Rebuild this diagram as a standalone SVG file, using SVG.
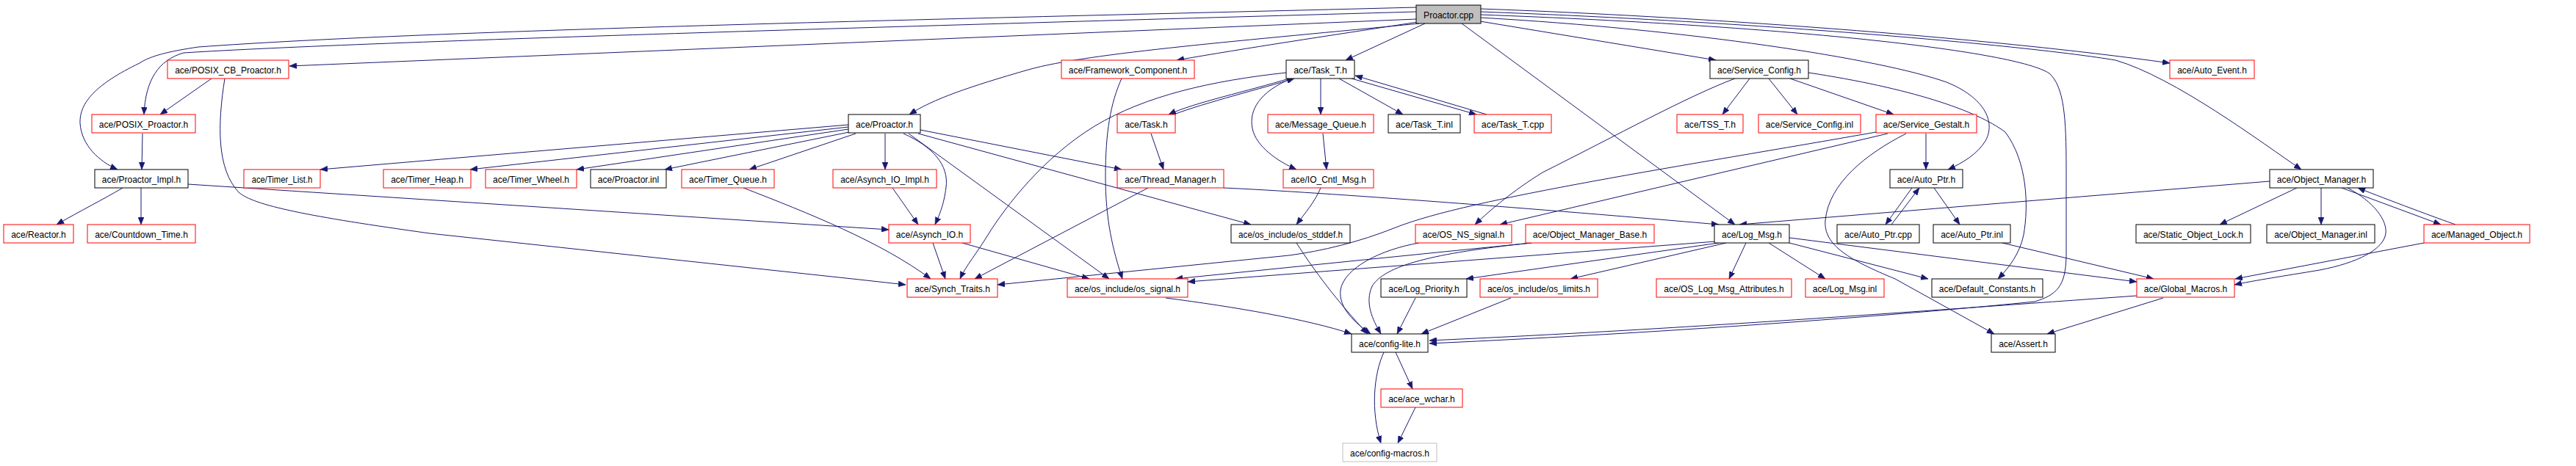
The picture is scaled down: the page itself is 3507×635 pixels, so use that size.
<svg xmlns="http://www.w3.org/2000/svg" width="3507" height="635" viewBox="0 0 3507 635">
<style>
.n rect{fill:#fff;stroke-width:1}
.r rect{stroke:#ff0000}
.b rect{stroke:#000}
.g rect{stroke:#bfbfbf}
.root rect{fill:#bfbfbf;stroke:#000}
text{font-family:"Liberation Sans",Arial,sans-serif;font-size:13.5px;text-anchor:middle;fill:#000}
.e path{fill:none;stroke:#191970;stroke-width:1;marker-end:url(#ah)}
</style>
<defs>
<marker id="ah" markerUnits="userSpaceOnUse" markerWidth="10" markerHeight="8" viewBox="0 0 10 8" refX="10" refY="4" orient="auto">
<path d="M0,0 L10,4 L0,8 z" fill="#191970" stroke="#191970" stroke-width="0.5"/>
</marker>
</defs>
<rect width="3507" height="635" fill="#fff"/>
<g id="edges" class="e">
<path d="M1928,26 L394,90"/>
<path d="M1928,16 C1300,34 500,56 250,72 C215,82 198,110 196,156"/>
<path d="M1928,10 C1300,26 600,40 270,64 C230,70 205,76 190,86 C130,115 108,140 109,168 C111,198 135,220 160,231"/>
<path d="M1930,30 C1800,50 1700,65 1602,82"/>
<path d="M1932,32 C1700,55 1480,72 1400,95 C1320,118 1270,135 1238,156"/>
<path d="M1940,32 L1832,82"/>
<path d="M2015,29 L2336,82"/>
<path d="M1990,32 L2362,306"/>
<path d="M2015,12 C2300,22 2700,50 2954,86"/>
<path d="M2015,16 C2400,30 2760,62 2880,82 C2960,105 3080,195 3133,231"/>
<path d="M2015,20 C2450,36 2745,70 2790,100 C2810,118 2813,160 2813,230 L2813,350 C2812,390 2800,402 2770,411 C2600,428 2300,452 1946,468"/>
<path d="M2015,24 C2300,40 2560,80 2650,112 C2700,132 2718,165 2703,192 C2692,210 2672,222 2652,231"/>
<path d="M288,107 L218,156"/>
<path d="M306,107 C296,170 295,230 325,262 C345,280 420,295 585,318 L1170,381 L1233,388"/>
<path d="M194,182 L193,231"/>
<path d="M167,256 C140,272 110,287 77,306"/>
<path d="M192,256 L192,306"/>
<path d="M256,251 L1210,313"/>
<path d="M1155,170 L436,231"/>
<path d="M1155,173 L640,231"/>
<path d="M1155,176 L785,231"/>
<path d="M1156,180 L905,231"/>
<path d="M1165,182 L1020,231"/>
<path d="M1205,182 L1205,231"/>
<path d="M1230,182 C1270,200 1292,225 1288,255 C1285,280 1278,295 1273,306"/>
<path d="M1237,182 L1510,380"/>
<path d="M1250,182 L1703,306"/>
<path d="M1253,177 L1527,231"/>
<path d="M1755,107 C1700,124 1625,140 1591,156"/>
<path d="M1598,156 C1640,140 1720,120 1762,107"/>
<path d="M1758,107 C1715,125 1700,150 1705,175 C1710,200 1740,220 1765,231"/>
<path d="M1751,99 C1650,110 1560,130 1490,172 C1420,215 1370,280 1345,320 C1330,345 1315,362 1307,380"/>
<path d="M1798,107 L1798,156"/>
<path d="M1823,107 L1910,156"/>
<path d="M1840,107 L2010,156"/>
<path d="M2024,156 L1845,103"/>
<path d="M1801,182 L1806,231"/>
<path d="M1798,256 C1790,275 1777,290 1765,306"/>
<path d="M1567,182 L1584,231"/>
<path d="M1563,256 L1327,380"/>
<path d="M1666,256 C1800,262 2100,285 2340,306"/>
<path d="M1215,256 L1250,306"/>
<path d="M1270,331 L1287,380"/>
<path d="M1310,331 L1483,380"/>
<path d="M1012,256 C1100,290 1200,330 1267,380"/>
<path d="M1527,107 C1512,140 1505,180 1505,240 C1505,300 1515,340 1528,380"/>
<path d="M2382,107 L2345,156"/>
<path d="M2408,107 L2447,156"/>
<path d="M2437,107 L2578,156"/>
<path d="M2362,107 C2300,130 2200,185 2100,235 C2060,260 2030,285 2008,306"/>
<path d="M2462,99 C2600,120 2690,150 2730,180 C2760,220 2762,280 2755,320 C2750,345 2735,365 2720,380"/>
<path d="M2622,182 L2622,231"/>
<path d="M2570,182 L2042,306"/>
<path d="M2554,180 C2300,225 2000,270 1900,310 C1850,330 1800,342 1755,348 L1358,388"/>
<path d="M2595,182 C2540,210 2490,250 2485,300 C2482,335 2520,355 2580,380 L2715,455"/>
<path d="M2603,256 L2567,306"/>
<path d="M2575,306 L2613,256"/>
<path d="M2633,256 L2668,306"/>
<path d="M2726,331 L2932,380"/>
<path d="M3127,256 L3022,306"/>
<path d="M3160,256 L3160,306"/>
<path d="M3188,256 L3323,306"/>
<path d="M3343,306 C3320,298 3250,272 3210,256"/>
<path d="M3196,256 C3232,275 3250,300 3248,318 C3245,340 3210,358 3158,368 C3110,376 3070,382 3042,388"/>
<path d="M3300,331 L3043,380"/>
<path d="M3090,247 L2368,306"/>
<path d="M1932,331 C1880,340 1830,365 1825,395 C1822,420 1845,440 1866,455"/>
<path d="M2085,331 C1950,345 1885,362 1868,390 C1858,412 1868,435 1880,455"/>
<path d="M2085,331 L1600,380"/>
<path d="M2336,329 L1617,384"/>
<path d="M2340,331 L1996,380"/>
<path d="M2350,331 L2138,380"/>
<path d="M2377,331 L2354,380"/>
<path d="M2408,331 L2485,380"/>
<path d="M2436,331 L2625,380"/>
<path d="M2436,324 L2909,384"/>
<path d="M1765,331 C1790,370 1820,410 1862,455"/>
<path d="M1587,406 C1680,418 1780,435 1840,455"/>
<path d="M1927,406 L1902,455"/>
<path d="M2057,406 L1935,455"/>
<path d="M2909,403 C2600,425 2300,448 1946,464"/>
<path d="M2945,406 L2787,455"/>
<path d="M1900,480 L1923,530"/>
<path d="M1884,480 C1870,510 1866,560 1880,604"/>
<path d="M1927,555 L1903,604"/>
</g>
<g id="n_root" class="n root"><rect x="1928" y="7" width="88" height="25"/><text x="1972" y="24.5" textLength="67.8" lengthAdjust="spacingAndGlyphs">Proactor.cpp</text></g>
<g id="n_posix_cb" class="n r"><rect x="228" y="82" width="165" height="25"/><text x="310.5" y="99.5" textLength="144.7" lengthAdjust="spacingAndGlyphs">ace/POSIX_CB_Proactor.h</text></g>
<g id="n_framework" class="n r"><rect x="1445" y="82" width="181" height="25"/><text x="1535.5" y="99.5" textLength="161.4" lengthAdjust="spacingAndGlyphs">ace/Framework_Component.h</text></g>
<g id="n_task_t_h" class="n b"><rect x="1751" y="82" width="93" height="25"/><text x="1797.5" y="99.5" textLength="72.7" lengthAdjust="spacingAndGlyphs">ace/Task_T.h</text></g>
<g id="n_service_config_h" class="n b"><rect x="2328" y="82" width="134" height="25"/><text x="2395" y="99.5" textLength="114" lengthAdjust="spacingAndGlyphs">ace/Service_Config.h</text></g>
<g id="n_auto_event" class="n r"><rect x="2954" y="82" width="115" height="25"/><text x="3011.5" y="99.5" textLength="94.7" lengthAdjust="spacingAndGlyphs">ace/Auto_Event.h</text></g>
<g id="n_posix_proactor" class="n r"><rect x="125" y="156" width="141" height="25"/><text x="195.5" y="173.5" textLength="121.4" lengthAdjust="spacingAndGlyphs">ace/POSIX_Proactor.h</text></g>
<g id="n_proactor_h" class="n b"><rect x="1155" y="156" width="98" height="25"/><text x="1204" y="173.5" textLength="78" lengthAdjust="spacingAndGlyphs">ace/Proactor.h</text></g>
<g id="n_task_h" class="n r"><rect x="1521" y="156" width="79" height="25"/><text x="1560.5" y="173.5" textLength="58.7" lengthAdjust="spacingAndGlyphs">ace/Task.h</text></g>
<g id="n_message_queue" class="n r"><rect x="1726" y="156" width="144" height="25"/><text x="1798" y="173.5" textLength="124.1" lengthAdjust="spacingAndGlyphs">ace/Message_Queue.h</text></g>
<g id="n_task_t_inl" class="n b"><rect x="1890" y="156" width="98" height="25"/><text x="1939" y="173.5" textLength="78" lengthAdjust="spacingAndGlyphs">ace/Task_T.inl</text></g>
<g id="n_task_t_cpp" class="n r"><rect x="2007" y="156" width="105" height="25"/><text x="2059.5" y="173.5" textLength="85.4" lengthAdjust="spacingAndGlyphs">ace/Task_T.cpp</text></g>
<g id="n_tss_t" class="n r"><rect x="2283" y="156" width="90" height="25"/><text x="2328" y="173.5" textLength="70" lengthAdjust="spacingAndGlyphs">ace/TSS_T.h</text></g>
<g id="n_service_config_inl" class="n r"><rect x="2394" y="156" width="139" height="25"/><text x="2463.5" y="173.5" textLength="119.4" lengthAdjust="spacingAndGlyphs">ace/Service_Config.inl</text></g>
<g id="n_service_gestalt" class="n r"><rect x="2554" y="156" width="137" height="25"/><text x="2622.5" y="173.5" textLength="117.4" lengthAdjust="spacingAndGlyphs">ace/Service_Gestalt.h</text></g>
<g id="n_proactor_impl" class="n b"><rect x="129" y="231" width="127" height="25"/><text x="192.5" y="248.5" textLength="107.4" lengthAdjust="spacingAndGlyphs">ace/Proactor_Impl.h</text></g>
<g id="n_timer_list" class="n r"><rect x="332" y="231" width="104" height="25"/><text x="384" y="248.5" textLength="82.7" lengthAdjust="spacingAndGlyphs">ace/Timer_List.h</text></g>
<g id="n_timer_heap" class="n r"><rect x="522" y="231" width="119" height="25"/><text x="581.5" y="248.5" textLength="98.7" lengthAdjust="spacingAndGlyphs">ace/Timer_Heap.h</text></g>
<g id="n_timer_wheel" class="n r"><rect x="661" y="231" width="124" height="25"/><text x="723" y="248.5" textLength="104" lengthAdjust="spacingAndGlyphs">ace/Timer_Wheel.h</text></g>
<g id="n_proactor_inl" class="n b"><rect x="804" y="231" width="103" height="25"/><text x="855.5" y="248.5" textLength="83.4" lengthAdjust="spacingAndGlyphs">ace/Proactor.inl</text></g>
<g id="n_timer_queue" class="n r"><rect x="928" y="231" width="126" height="25"/><text x="991" y="248.5" textLength="106" lengthAdjust="spacingAndGlyphs">ace/Timer_Queue.h</text></g>
<g id="n_asynch_io_impl" class="n r"><rect x="1134" y="231" width="141" height="25"/><text x="1204.5" y="248.5" textLength="120.7" lengthAdjust="spacingAndGlyphs">ace/Asynch_IO_Impl.h</text></g>
<g id="n_thread_manager" class="n r"><rect x="1521" y="231" width="145" height="25"/><text x="1593.5" y="248.5" textLength="124.7" lengthAdjust="spacingAndGlyphs">ace/Thread_Manager.h</text></g>
<g id="n_io_cntl_msg" class="n r"><rect x="1747" y="231" width="123" height="25"/><text x="1808.5" y="248.5" textLength="102.7" lengthAdjust="spacingAndGlyphs">ace/IO_Cntl_Msg.h</text></g>
<g id="n_auto_ptr_h" class="n b"><rect x="2573" y="231" width="99" height="25"/><text x="2622.5" y="248.5" textLength="79.4" lengthAdjust="spacingAndGlyphs">ace/Auto_Ptr.h</text></g>
<g id="n_object_manager_h" class="n b"><rect x="3090" y="231" width="141" height="25"/><text x="3160.5" y="248.5" textLength="121.4" lengthAdjust="spacingAndGlyphs">ace/Object_Manager.h</text></g>
<g id="n_reactor" class="n r"><rect x="5" y="306" width="95" height="25"/><text x="52.5" y="323.5" textLength="74.7" lengthAdjust="spacingAndGlyphs">ace/Reactor.h</text></g>
<g id="n_countdown" class="n r"><rect x="119" y="306" width="147" height="25"/><text x="192.5" y="323.5" textLength="126.7" lengthAdjust="spacingAndGlyphs">ace/Countdown_Time.h</text></g>
<g id="n_asynch_io" class="n r"><rect x="1210" y="306" width="111" height="25"/><text x="1265.5" y="323.5" textLength="91.4" lengthAdjust="spacingAndGlyphs">ace/Asynch_IO.h</text></g>
<g id="n_os_stddef" class="n b"><rect x="1676" y="306" width="162" height="25"/><text x="1757" y="323.5" textLength="141.8" lengthAdjust="spacingAndGlyphs">ace/os_include/os_stddef.h</text></g>
<g id="n_os_ns_signal" class="n r"><rect x="1927" y="306" width="131" height="25"/><text x="1992.5" y="323.5" textLength="111.4" lengthAdjust="spacingAndGlyphs">ace/OS_NS_signal.h</text></g>
<g id="n_object_manager_base" class="n r"><rect x="2077" y="306" width="175" height="25"/><text x="2164.5" y="323.5" textLength="155.4" lengthAdjust="spacingAndGlyphs">ace/Object_Manager_Base.h</text></g>
<g id="n_log_msg_h" class="n b"><rect x="2334" y="306" width="102" height="25"/><text x="2385" y="323.5" textLength="82" lengthAdjust="spacingAndGlyphs">ace/Log_Msg.h</text></g>
<g id="n_auto_ptr_cpp" class="n b"><rect x="2501" y="306" width="112" height="25"/><text x="2557" y="323.5" textLength="92.1" lengthAdjust="spacingAndGlyphs">ace/Auto_Ptr.cpp</text></g>
<g id="n_auto_ptr_inl" class="n b"><rect x="2632" y="306" width="105" height="25"/><text x="2684.5" y="323.5" textLength="84.7" lengthAdjust="spacingAndGlyphs">ace/Auto_Ptr.inl</text></g>
<g id="n_static_object_lock" class="n b"><rect x="2908" y="306" width="156" height="25"/><text x="2986" y="323.5" textLength="136.1" lengthAdjust="spacingAndGlyphs">ace/Static_Object_Lock.h</text></g>
<g id="n_object_manager_inl" class="n b"><rect x="3086" y="306" width="147" height="25"/><text x="3159.5" y="323.5" textLength="126.7" lengthAdjust="spacingAndGlyphs">ace/Object_Manager.inl</text></g>
<g id="n_managed_object" class="n r"><rect x="3300" y="306" width="144" height="25"/><text x="3372" y="323.5" textLength="124.1" lengthAdjust="spacingAndGlyphs">ace/Managed_Object.h</text></g>
<g id="n_synch_traits" class="n r"><rect x="1235" y="380" width="123" height="25"/><text x="1296.5" y="397.5" textLength="102.7" lengthAdjust="spacingAndGlyphs">ace/Synch_Traits.h</text></g>
<g id="n_os_signal" class="n r"><rect x="1453" y="380" width="164" height="25"/><text x="1535" y="397.5" textLength="144.1" lengthAdjust="spacingAndGlyphs">ace/os_include/os_signal.h</text></g>
<g id="n_log_priority" class="n b"><rect x="1880" y="380" width="117" height="25"/><text x="1938.5" y="397.5" textLength="96.7" lengthAdjust="spacingAndGlyphs">ace/Log_Priority.h</text></g>
<g id="n_os_limits" class="n r"><rect x="2015" y="380" width="160" height="25"/><text x="2095" y="397.5" textLength="140.1" lengthAdjust="spacingAndGlyphs">ace/os_include/os_limits.h</text></g>
<g id="n_os_log_msg_attributes" class="n r"><rect x="2255" y="380" width="184" height="25"/><text x="2347" y="397.5" textLength="163.4" lengthAdjust="spacingAndGlyphs">ace/OS_Log_Msg_Attributes.h</text></g>
<g id="n_log_msg_inl" class="n r"><rect x="2458" y="380" width="107" height="25"/><text x="2511.5" y="397.5" textLength="87.4" lengthAdjust="spacingAndGlyphs">ace/Log_Msg.inl</text></g>
<g id="n_default_constants" class="n b"><rect x="2630" y="380" width="151" height="25"/><text x="2705.5" y="397.5" textLength="131.4" lengthAdjust="spacingAndGlyphs">ace/Default_Constants.h</text></g>
<g id="n_global_macros" class="n r"><rect x="2909" y="380" width="133" height="25"/><text x="2975.5" y="397.5" textLength="113.4" lengthAdjust="spacingAndGlyphs">ace/Global_Macros.h</text></g>
<g id="n_config_lite" class="n b"><rect x="1840" y="455" width="104" height="25"/><text x="1892" y="472.5" textLength="84" lengthAdjust="spacingAndGlyphs">ace/config-lite.h</text></g>
<g id="n_assert" class="n b"><rect x="2711" y="455" width="87" height="25"/><text x="2754.5" y="472.5" textLength="66.7" lengthAdjust="spacingAndGlyphs">ace/Assert.h</text></g>
<g id="n_ace_wchar" class="n r"><rect x="1880" y="530" width="111" height="25"/><text x="1935.5" y="547.5" textLength="90.7" lengthAdjust="spacingAndGlyphs">ace/ace_wchar.h</text></g>
<g id="n_config_macros" class="n g"><rect x="1828" y="604" width="128" height="25"/><text x="1892" y="621.5" textLength="108" lengthAdjust="spacingAndGlyphs">ace/config-macros.h</text></g>
</svg>
